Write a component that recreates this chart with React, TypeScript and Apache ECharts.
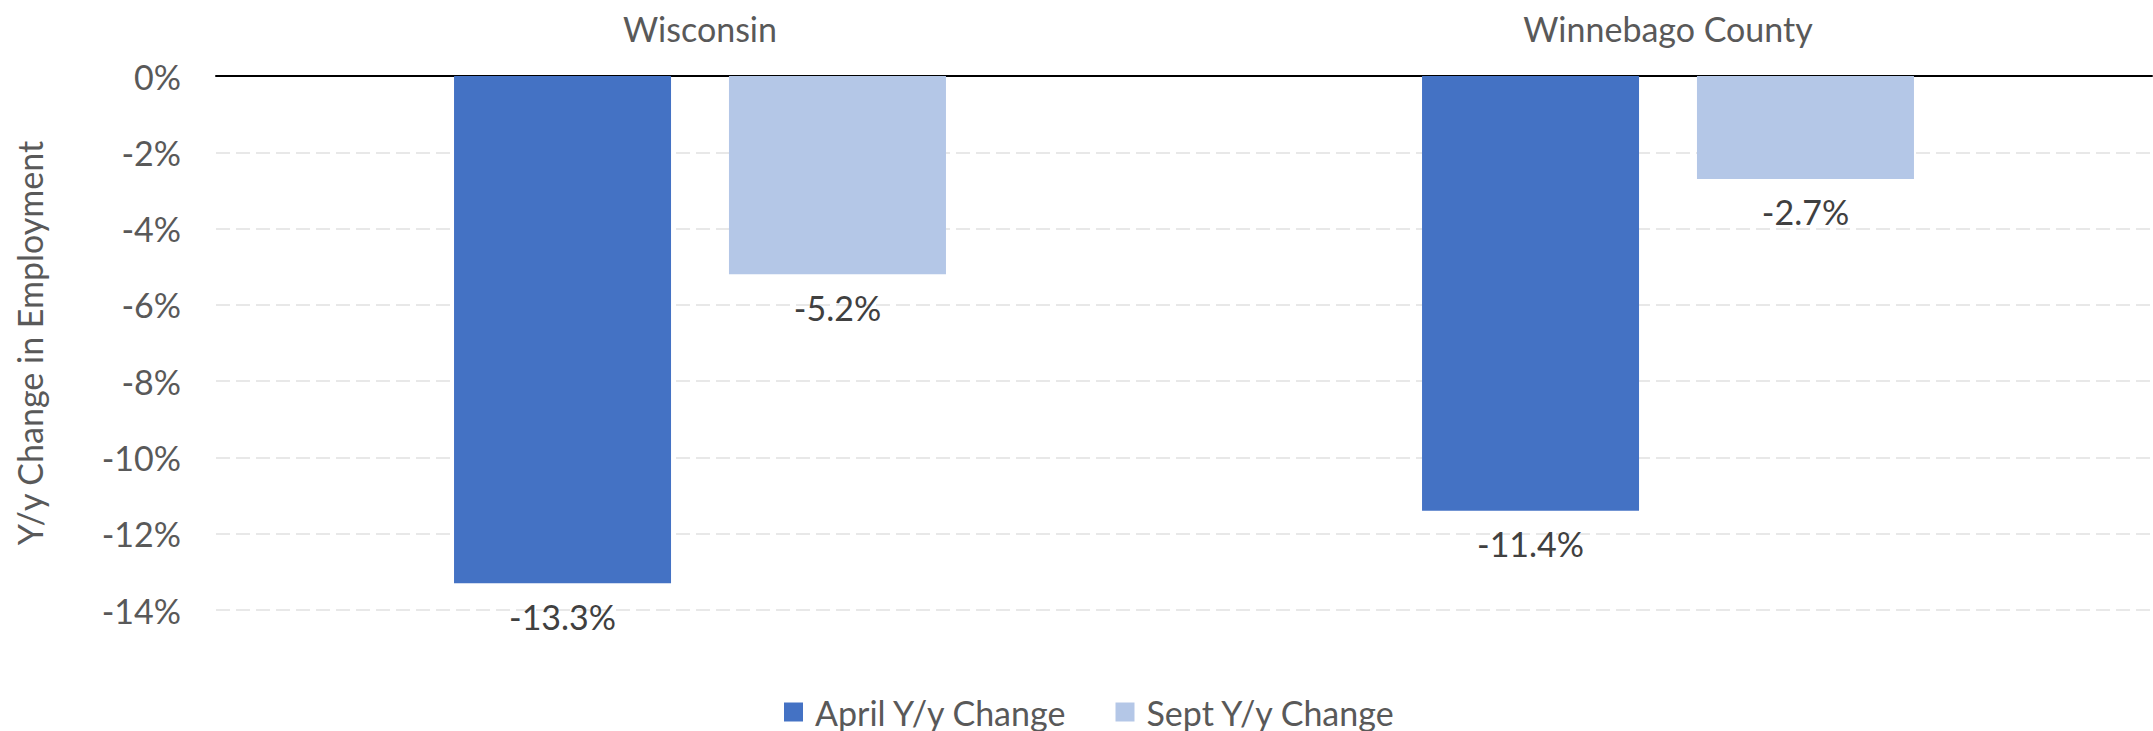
import React, { useEffect, useRef } from "react";
import * as echarts from "echarts";

const categories = ["Wisconsin", "Winnebago County"];
const aprilChange = [-13.3, -11.4];
const septChange = [-5.2, -2.7];
const seriesNames = ["April Y/y Change", "Sept Y/y Change"];
const yTicks = { min: -14, max: 0, interval: 2 };

const FONT = "Lato, 'Open Sans', sans-serif";
const FS = 34;

export default function App() {
  const ref = useRef<HTMLDivElement>(null);
  useEffect(() => {
    if (!ref.current) return;
    const chart = echarts.init(ref.current, null, { renderer: "svg" });
    const labelCfg = {
      show: true,
      position: "outside",
      distance: 16,
      fontFamily: FONT,
      fontSize: FS,
      color: "#404040",
      formatter: (p: any) => `${Number(p.value).toFixed(1)}%`,
    };
    chart.setOption({
      animation: false,
      textStyle: { fontFamily: FONT },
      grid: { left: 216, right: 1, top: 76, height: 534, containLabel: false },
      legend: {
        data: seriesNames,
        top: 690,
        left: 779,
        itemWidth: 19,
        itemHeight: 19,
        itemGap: 48,
        icon: "rect",
        textStyle: { fontFamily: FONT, fontSize: FS, color: "#595959", padding: [0, 0, 0, 7] },
      },
      xAxis: {
        type: "category",
        position: "top",
        data: categories,
        axisLine: { show: true, lineStyle: { color: "#000000", width: 2 } },
        axisTick: { show: false },
        axisLabel: { margin: 31, fontFamily: FONT, fontSize: FS, color: "#595959" },
      },
      yAxis: {
        type: "value",
        min: yTicks.min,
        max: yTicks.max,
        interval: yTicks.interval,
        name: "Y/y Change in Employment",
        nameLocation: "middle",
        nameGap: 170,
        nameTextStyle: { fontFamily: FONT, fontSize: FS, color: "#595959" },
        axisLine: { show: false },
        axisTick: { show: false },
        axisLabel: {
          margin: 35,
          fontFamily: FONT,
          fontSize: FS,
          color: "#595959",
          formatter: (v: number) => `${v}%`,
        },
        splitLine: { show: true, lineStyle: { color: "#e8e8e8", width: 2, type: [14, 6] } },
      },
      series: [
        {
          name: seriesNames[0],
          type: "bar",
          data: aprilChange,
          barWidth: 217,
          barGap: "26.7%",
          itemStyle: { color: "#4472C4" },
          label: labelCfg,
        },
        {
          name: seriesNames[1],
          type: "bar",
          data: septChange,
          barWidth: 217,
          barGap: "26.7%",
          itemStyle: { color: "#B4C7E7" },
          label: labelCfg,
        },
      ],
    });
    return () => chart.dispose();
  }, []);
  return (
    <div
      ref={ref}
      style={{ position: "fixed", left: 0, top: 0, width: 2153, height: 731, background: "#fff" }}
    />
  );
}
